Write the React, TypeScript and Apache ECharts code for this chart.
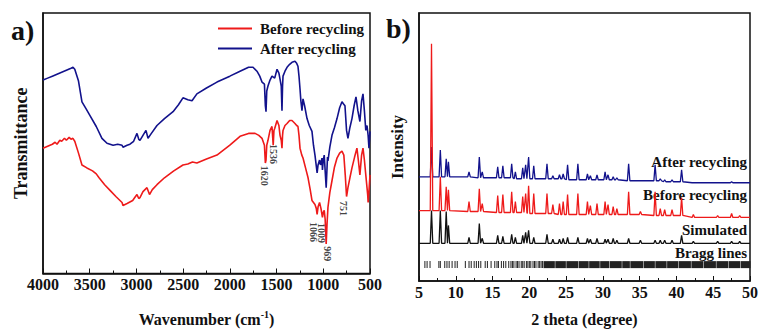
import React, { useEffect, useRef } from 'react';
import * as echarts from 'echarts';

const FONT = '"Liberation Serif", "Times New Roman", serif';
const RED = '#ee1a1a';
const BLUE = '#12128c';
const BLACK = '#111111';

// ---------- (a) FTIR: [wavenumber cm-1, transmittance a.u.] ----------
const beforeFTIR: [number, number][] = [
  [4000, 127], [3950, 129], [3900, 131], [3870, 133], [3850, 131], [3820, 135], [3800, 134], [3770, 137], [3750, 135],
  [3720, 138], [3700, 136], [3680, 137], [3660, 134], [3620, 122], [3583, 110], [3530, 107], [3470, 104], [3430, 101],
  [3400, 97], [3340, 90], [3280, 84], [3220, 78], [3154, 72], [3144, 69], [3100, 71], [3040, 74], [3010, 78], [2994, 80],
  [2975, 76], [2962, 77], [2930, 83], [2887, 87], [2860, 80], [2830, 85], [2780, 90], [2700, 97], [2600, 104], [2502, 110],
  [2450, 111], [2400, 113], [2353, 112], [2250, 116], [2138, 120], [2000, 130], [1891, 139], [1800, 142], [1730, 142],
  [1690, 140], [1656, 137], [1630, 130], [1620, 112], [1613, 115], [1605, 130], [1592, 135], [1570, 145], [1549, 149],
  [1536, 130], [1528, 145], [1520, 147], [1495, 155], [1475, 150], [1463, 140], [1450, 135], [1442, 127], [1436, 140],
  [1431, 145], [1410, 150], [1388, 152], [1360, 155], [1335, 155], [1303, 152], [1285, 150], [1271, 149], [1260, 140],
  [1249, 127], [1230, 120], [1217, 117], [1190, 107], [1163, 97], [1140, 85], [1121, 74], [1105, 72], [1089, 70],
  [1075, 66], [1066, 60], [1055, 68], [1040, 72], [1025, 66], [1009, 57], [1000, 62], [990, 64], [980, 55], [969, 30],
  [960, 50], [950, 67], [930, 82], [907, 94], [880, 108], [853, 117], [825, 122], [800, 124], [780, 120], [765, 100],
  [751, 78], [744, 82], [736, 87], [715, 97], [693, 107], [665, 118], [640, 127], [625, 115], [608, 100], [590, 120],
  [575, 127], [560, 115], [545, 100], [532, 87], [525, 80], [520, 72], [510, 85], [500, 100],
];

const afterFTIR: [number, number][] = [
  [4000, 196], [3950, 198], [3900, 200], [3850, 202], [3800, 204], [3750, 206], [3700, 208], [3679, 209], [3660, 207],
  [3620, 195], [3583, 174], [3540, 167], [3497, 160], [3430, 149], [3369, 137], [3315, 132], [3250, 130], [3200, 131],
  [3154, 130], [3144, 128], [3100, 130], [3069, 131], [3030, 134], [2994, 142], [2975, 136], [2962, 135], [2930, 140],
  [2898, 145], [2876, 137], [2840, 142], [2780, 150], [2700, 157], [2608, 164], [2550, 171], [2502, 178], [2450, 176],
  [2405, 175], [2353, 182], [2250, 188], [2138, 194], [2000, 200], [1891, 205], [1800, 209], [1752, 209], [1710, 205],
  [1680, 200], [1656, 194], [1630, 192], [1620, 170], [1613, 164], [1605, 185], [1592, 190], [1570, 196], [1549, 200],
  [1520, 198], [1495, 207], [1475, 203], [1463, 197], [1450, 190], [1442, 165], [1436, 190], [1431, 200], [1410, 205],
  [1388, 209], [1360, 212], [1335, 214], [1303, 215], [1285, 213], [1271, 210], [1260, 200], [1249, 187], [1240, 175],
  [1228, 165], [1217, 177], [1200, 170], [1174, 157], [1150, 150], [1121, 144], [1105, 130], [1089, 120], [1066, 102],
  [1056, 110], [1040, 115], [1030, 110], [1014, 117], [1009, 105], [1000, 115], [990, 120], [969, 87], [955, 118],
  [950, 114], [930, 128], [907, 140], [880, 148], [853, 157], [825, 168], [800, 174], [785, 172], [768, 170], [751, 145],
  [736, 137], [715, 148], [693, 157], [670, 170], [650, 179], [630, 165], [608, 154], [590, 175], [575, 182], [560, 165],
  [545, 145], [532, 150], [520, 140], [511, 127], [500, 144],
];

const peakLabelNames = ['1620', '1536', '1066', '1009', '969', '751'];
const peakLabelWavenumbers = [1624, 1538, 1110, 1014, 960, 780];
const peakLabelLevels = [99, 121, 42, 41, 20, 66];

// ---------- (b) PXRD: 2 theta (degree), intensity a.u. ----------
const xrdPeaks = [6.7, 7.9, 8.7, 9.0, 11.8, 13.2, 13.6, 15.7, 16.4, 17.6, 18.1, 19.1, 19.5, 19.9, 20.6, 22.4, 23.2, 24.1,
  24.6, 25.2, 26.6, 27.9, 28.3, 29.2, 30.3, 30.7, 31.4, 31.9, 33.5, 35.1, 37.1, 37.8, 38.4, 39.4, 40.7, 42.3, 45.6, 47.5, 48.6];
const simulatedTops = [71, 71, 70, 56, 44, 58, 43, 46, 45, 47, 44, 46, 49, 51, 44, 47, 42, 42,
  43, 44, 44, 43, 42, 43, 42, 42, 43, 41, 43, 41, 41, 41, 41, 41, 46, 40, 40, 40, 40];
const beforeTops = [239, 105, 95, 92, 80, 93, 78, 86, 87, 90, 80, 85, 88, 96, 88, 88, 77, 78,
  80, 87, 88, 80, 76, 78, 80, 77, 75, 73, 90, 70, 90, 73, 72, 72, 84, 67, 66, 68, 66];
const afterTops = [135, 132, 123, 120, 110, 125, 110, 115, 116, 118, 110, 114, 117, 125, 116, 118, 106, 107,
  108, 117, 118, 108, 106, 107, 110, 107, 105, 104, 118, 101, 117, 103, 102, 102, 112, 99, 99, 100, 99];
const simulatedBase: [number, number][] = [[5, 38]];
const beforeBase: [number, number][] = [[5, 71], [11, 70], [15, 69], [19.7, 68], [24, 67], [37, 66], [41.5, 64]];
const afterBase: [number, number][] = [[5, 105], [12, 104], [18, 103], [25, 102], [33, 101], [38, 100], [42, 99]];

const braggLines = [5.8, 6.1, 6.5, 7.7, 7.9, 8.5, 8.8, 9.1, 9.5, 9.9, 10.2, 11.3, 11.8, 12.1, 12.5, 12.8, 13.1, 13.4,
  14.0, 14.3, 14.8, 15.3, 15.6, 15.8, 16.2, 16.5, 16.8, 17.2, 17.5, 17.7, 17.9, 18.2, 18.4, 18.6, 18.9, 19.1, 19.3,
  19.6, 19.8, 20.0, 20.2, 20.5, 20.7, 20.9, 21.2, 21.4, 21.6, 21.8];
const braggBands: [number, number][] = [[22.0, 23.4], [23.6, 24.9], [25.1, 26.6], [26.8, 28.0], [28.2, 29.5], [29.7, 30.8],
  [31.0, 32.5], [32.7, 33.6], [33.8, 35.4], [35.6, 37.0], [37.2, 38.6], [38.8, 40.2], [40.4, 41.9], [42.1, 43.6],
  [43.8, 45.3], [45.5, 47.0], [47.2, 48.6], [48.8, 50.0]];
const braggLevel = 16.5;

function baseAt(steps: [number, number][], x: number) {
  let b = steps[0][1];
  for (const [x0, v] of steps) if (x >= x0) b = v;
  return b;
}
function buildPattern(tops: number[], steps: [number, number][]) {
  const hw = 0.17;
  const pts: [number, number][] = [[5, baseAt(steps, 5)]];
  xrdPeaks.forEach((p, i) => {
    const b = baseAt(steps, p);
    pts.push([p - hw, b], [p, tops[i]], [p + hw, b]);
  });
  pts.push([50, baseAt(steps, 50)]);
  return pts;
}

const labelFont = { fontFamily: FONT, fontWeight: 'bold' as const, color: BLACK };

export default function App() {
  const ref = useRef<HTMLDivElement>(null);
  useEffect(() => {
    if (!ref.current) return;
    const chart = echarts.init(ref.current, undefined, { renderer: 'svg' });
    const axisLine = { show: true, lineStyle: { color: BLACK, width: 1.5 } };
    const braggData = [
      ...braggLines.map((x) => [x, x]),
      ...braggBands.map(([a, b]) => [a, b]),
    ];
    const plain = (v: number) => String(v);
    chart.setOption({
      animation: false,
      backgroundColor: '#fff',
      textStyle: { fontFamily: FONT },
      grid: [
        { left: 43, top: 13, width: 327, height: 264, show: true, borderColor: BLACK, borderWidth: 1.5 },
        { left: 419, top: 13, width: 332, height: 270, show: true, borderColor: BLACK, borderWidth: 1.5 },
      ],
      legend: {
        data: ['Before recycling', 'After recycling'],
        orient: 'vertical',
        left: 213,
        top: 16,
        itemWidth: 34,
        itemHeight: 2,
        itemGap: 5,
        icon: 'rect',
        textStyle: { ...labelFont, fontSize: 15, padding: [0, 0, 0, 3] },
      },
      xAxis: [
        {
          type: 'value', gridIndex: 0, min: 500, max: 4000, interval: 500, inverse: true,
          axisLine, splitLine: { show: false },
          axisTick: { inside: true, length: 5, lineStyle: { color: BLACK } },
          minorTick: { show: true, splitNumber: 2, length: 3, lineStyle: { color: BLACK } },
          axisLabel: { ...labelFont, fontSize: 16, margin: 3, formatter: plain },
          name: 'Wavenumber (cm{sup|-1})', nameLocation: 'middle', nameGap: 36,
          nameTextStyle: {
            ...labelFont, fontSize: 16,
            rich: { sup: { ...labelFont, fontSize: 10, padding: [0, 0, 9, 0] } },
          },
        },
        {
          type: 'value', gridIndex: 1, min: 5, max: 50, interval: 5,
          axisLine, splitLine: { show: false },
          axisTick: { inside: true, length: 5, lineStyle: { color: BLACK } },
          minorTick: { show: true, splitNumber: 2, length: 3, lineStyle: { color: BLACK } },
          axisLabel: { ...labelFont, fontSize: 16, margin: 3, formatter: plain },
          name: '2 theta (degree)', nameLocation: 'middle', nameGap: 30,
          nameTextStyle: { ...labelFont, fontSize: 16 },
        },
      ],
      yAxis: [
        {
          type: 'value', gridIndex: 0, min: 0, max: 264,
          axisLine, axisTick: { show: false }, axisLabel: { show: false }, splitLine: { show: false },
          name: 'Transmittance', nameLocation: 'middle', nameGap: 13,
          nameTextStyle: { ...labelFont, fontSize: 18 },
        },
        {
          type: 'value', gridIndex: 1, min: 0, max: 270,
          axisLine, axisTick: { show: false }, axisLabel: { show: false }, splitLine: { show: false },
          name: 'Intensity', nameLocation: 'middle', nameGap: 13,
          nameTextStyle: { ...labelFont, fontSize: 17 },
        },
      ],
      series: [
        {
          name: 'Before recycling', type: 'line', xAxisIndex: 0, yAxisIndex: 0, data: beforeFTIR,
          showSymbol: false, color: RED, lineStyle: { color: RED, width: 1.6 },
        },
        {
          name: 'After recycling', type: 'line', xAxisIndex: 0, yAxisIndex: 0, data: afterFTIR,
          showSymbol: false, color: BLUE, lineStyle: { color: BLUE, width: 1.6 },
        },
        {
          name: 'peak labels', type: 'scatter', xAxisIndex: 0, yAxisIndex: 0, silent: true,
          symbolSize: 0,
          data: peakLabelNames.map((n, i) => ({ name: n, value: [peakLabelWavenumbers[i], peakLabelLevels[i]] })),
          label: { show: true, formatter: '{b}', rotate: -90, position: 'inside', ...labelFont, fontSize: 10 },
        },
        {
          name: 'XRD after', type: 'line', xAxisIndex: 1, yAxisIndex: 1, data: buildPattern(afterTops, afterBase),
          showSymbol: false, lineStyle: { color: BLUE, width: 1.3 }, color: BLUE,
        },
        {
          name: 'XRD before', type: 'line', xAxisIndex: 1, yAxisIndex: 1, data: buildPattern(beforeTops, beforeBase),
          showSymbol: false, lineStyle: { color: RED, width: 1.3 }, color: RED,
        },
        {
          name: 'XRD simulated', type: 'line', xAxisIndex: 1, yAxisIndex: 1, data: buildPattern(simulatedTops, simulatedBase),
          showSymbol: false, lineStyle: { color: BLACK, width: 1.3 }, color: BLACK,
        },
        {
          name: 'Bragg', type: 'custom', xAxisIndex: 1, yAxisIndex: 1, silent: true,
          encode: { x: [0, 1] },
          data: braggData,
          renderItem: (_p: any, api: any) => {
            const s = api.coord([api.value(0), braggLevel]);
            const e = api.coord([api.value(1), braggLevel]);
            const h = 7;
            return {
              type: 'rect',
              shape: { x: s[0] - 0.5, y: s[1] - h / 2, width: Math.max(1, e[0] - s[0] + 1), height: h },
              style: { fill: '#222' },
            };
          },
        },
      ],
      graphic: [
        { type: 'text', x: 11, y: 30, style: { text: 'a)', font: `bold 28px ${FONT}`, fill: BLACK, verticalAlign: 'middle' } },
        { type: 'text', x: 386, y: 28, style: { text: 'b)', font: `bold 28px ${FONT}`, fill: BLACK, verticalAlign: 'middle' } },
        { type: 'text', x: 747, y: 162, style: { text: 'After recycling', font: `bold 15px ${FONT}`, fill: BLACK, align: 'right', verticalAlign: 'middle' } },
        { type: 'text', x: 747, y: 195, style: { text: 'Before recycling', font: `bold 15px ${FONT}`, fill: BLACK, align: 'right', verticalAlign: 'middle' } },
        { type: 'text', x: 747, y: 230, style: { text: 'Simulated', font: `bold 15px ${FONT}`, fill: BLACK, align: 'right', verticalAlign: 'middle' } },
        { type: 'text', x: 747, y: 253, style: { text: 'Bragg lines', font: `bold 15px ${FONT}`, fill: BLACK, align: 'right', verticalAlign: 'middle' } },
      ],
    });
    return () => chart.dispose();
  }, []);
  return <div ref={ref} style={{ position: 'fixed', left: 0, top: 0, width: 761, height: 332, background: '#fff' }} />;
}
